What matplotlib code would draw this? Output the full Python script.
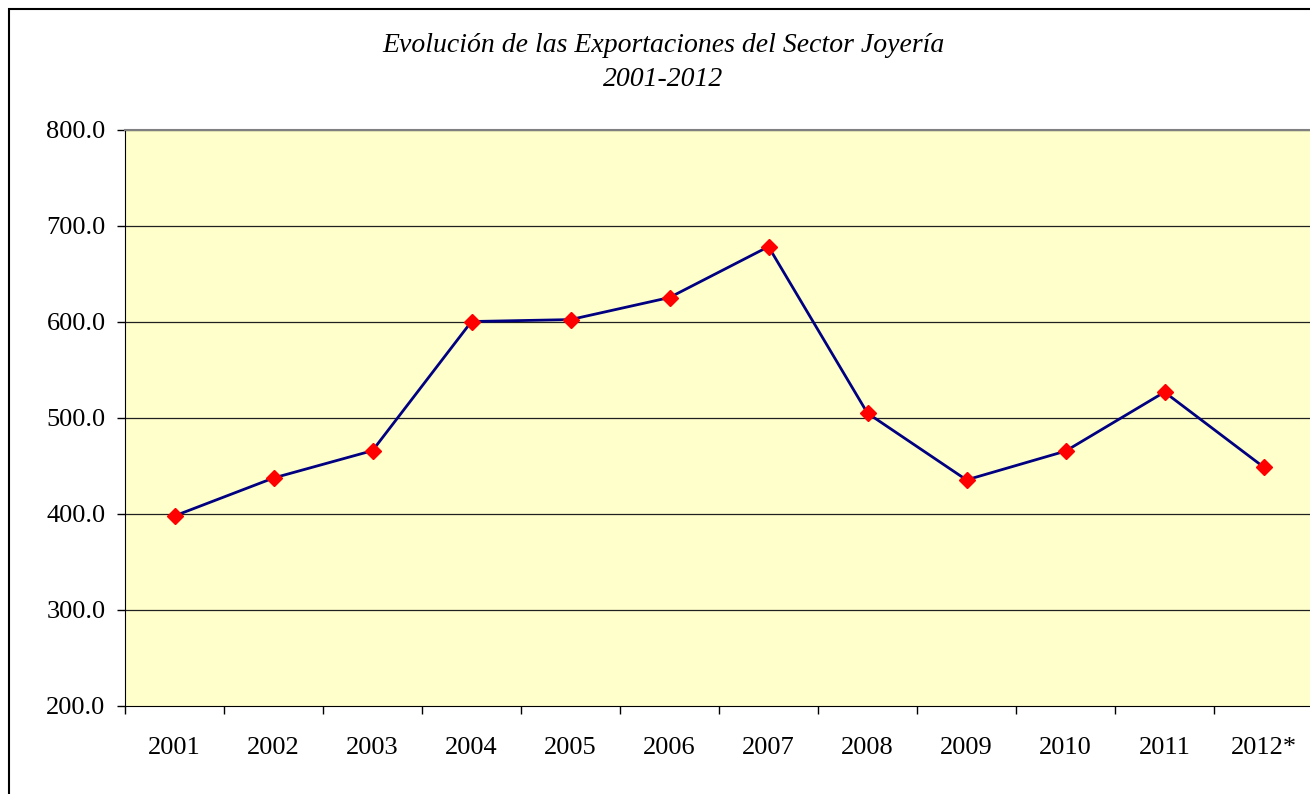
import matplotlib
matplotlib.use("Agg")
import matplotlib.pyplot as plt
from matplotlib.patches import Rectangle
from matplotlib.ticker import FixedLocator, FixedFormatter
import numpy as np

years = ["2001", "2002", "2003", "2004", "2005", "2006", "2007", "2008", "2009", "2010", "2011", "2012*"]
exports = [398.0, 437.5, 466.0, 600.5, 602.5, 625.5, 678.5, 505.0, 435.5, 465.5, 527.0, 449.0]
yticks = [200, 300, 400, 500, 600, 700, 800]

plt.rcParams['font.family'] = ['Liberation Serif', 'DejaVu Serif']

W, H = 1310, 794
fig = plt.figure(figsize=(W/100, H/100), dpi=100)
fig.patch.set_facecolor('white')

ax = fig.add_axes([125/W, 1-706/H, (1313-125)/W, (706-130)/H])
ax.set_facecolor('#FFFFCC')

x = np.arange(len(years))
ax.plot(x, exports, color='#000080', lw=2.0, zorder=3)
ax.plot(x, exports, linestyle='none', marker='D', markersize=8.5,
        markerfacecolor='#FF0000', markeredgecolor='#FF0000', zorder=4)

ax.set_xlim(-0.5, len(years)-0.5)
ax.set_ylim(200, 800)
ax.yaxis.set_major_locator(FixedLocator(yticks))
ax.set_yticklabels([f"{v:.1f}" for v in yticks])
for v in yticks[1:]:
    ax.axhline(v, color='#202020', lw=0.9, zorder=1)

ax.xaxis.set_major_locator(FixedLocator(np.arange(len(years)+1)-0.5))
ax.xaxis.set_major_formatter(FixedFormatter([""]*(len(years)+1)))
ax.xaxis.set_minor_locator(FixedLocator(x))
ax.xaxis.set_minor_formatter(FixedFormatter(years))
ax.tick_params(axis='x', which='major', direction='out', length=5.5, width=1, color='black')
ax.tick_params(axis='x', which='minor', length=0, pad=22, labelsize=19)
ax.tick_params(axis='y', direction='out', length=5.5, width=1, color='black', pad=8.5, labelsize=19)

ax.spines['right'].set_visible(False)
ax.spines['top'].set_color('#808080')
ax.spines['top'].set_linewidth(1.5)
ax.spines['left'].set_color('black')
ax.spines['bottom'].set_color('black')

fig.text(663/W, 1-46/H, "Evolución de las Exportaciones del Sector Joyería",
         ha='center', va='center', fontsize=20, style='italic')
fig.text(663/W, 1-80/H, "2001-2012", ha='center', va='center', fontsize=20, style='italic')

fig.patches.append(Rectangle((9/W, -0.1), 1.2, 1-9/H+0.1, transform=fig.transFigure,
                             fill=False, edgecolor='black', lw=1.5, clip_on=False))

fig.savefig("out.png", dpi=100)
